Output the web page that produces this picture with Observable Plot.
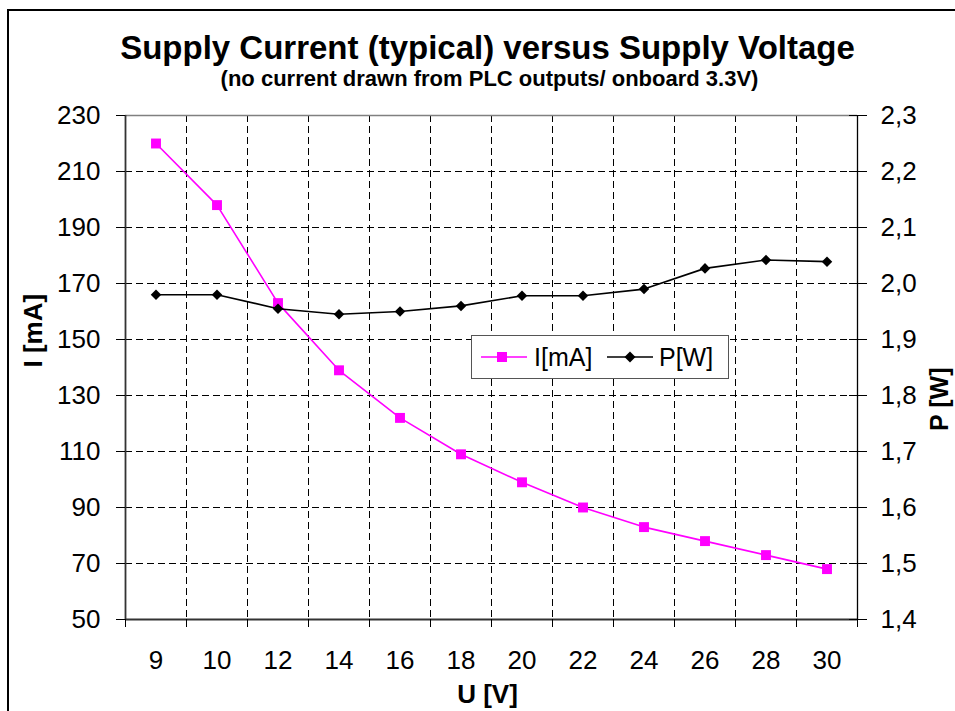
<!DOCTYPE html>
<html><head><meta charset="utf-8">
<script src="https://cdn.jsdelivr.net/npm/d3@7"></script>
<script src="https://cdn.jsdelivr.net/npm/@observablehq/plot@0.6"></script>
<style>
body{margin:0;background:#fff;}
#wrap{position:relative;width:955px;height:711px;overflow:hidden;background:#fff;font-family:"Liberation Sans",Arial,sans-serif;}
#wrap svg.plot{position:absolute;left:0;top:0;}
#border{position:absolute;left:7px;top:9px;width:1000px;height:1000px;border:2px solid #000;pointer-events:none;}
#legend{position:absolute;left:471px;top:335px;}
</style></head><body>
<div id="wrap"></div>
<script>
const voltages = ["9","10","12","14","16","18","20","22","24","26","28","30"];
const currentMA = [220,198,163,139,122,109,99,90,83,78,73,68];
const powerW = [1.98,1.98,1.955,1.945,1.95,1.96,1.978,1.978,1.99,2.027,2.042,2.039];
const iTicks = [50,70,90,110,130,150,170,190,210,230];
const pTicks = [1.4,1.5,1.6,1.7,1.8,1.9,2.0,2.1,2.2,2.3];
const seriesNames = ["I[mA]","P[W]"];

const toI = p => 50 + (p - 1.4) * 200;
const toP = i => (i - 50) / 200 + 1.4;
const data = voltages.map((v, i) => ({i, U: v, I: currentMA[i], P: powerW[i]}));
const idx = d3.range(voltages.length);
const bounds = d3.range(voltages.length + 1).map(k => k - 0.5);
const inner = bounds.slice(1, -1);
const dash = {stroke: "#000", strokeOpacity: 1, strokeWidth: 1, strokeDasharray: "7,4"};

const chart = Plot.plot({
  width: 955, height: 711,
  marginLeft: 125, marginRight: 98, marginTop: 115, marginBottom: 92,
  x: {type: "linear", domain: [-0.5, voltages.length - 0.5], axis: null},
  y: {type: "linear", domain: [50, 230], axis: null},
  style: {fontFamily: "'Liberation Sans', Arial, sans-serif", background: "transparent", overflow: "visible", color: "#000"},
  marks: [
    Plot.ruleY(iTicks.slice(1, -1), dash),
    Plot.ruleX(inner, dash),
    Plot.ruleY([230], {stroke: "#808080", strokeWidth: 1.5}),
    Plot.ruleY([50], {stroke: "#333", strokeWidth: 1.8}),
    Plot.ruleX([-0.5], {stroke: "#333", strokeWidth: 1.8}),
    Plot.ruleX([voltages.length - 0.5], {stroke: "#000", strokeWidth: 1.3}),
    Plot.axisY(iTicks, {anchor: "left", tickSize: 9, tickPadding: 16, fontSize: 26, label: null}),
    Plot.axisY(pTicks.map(toI), {anchor: "right", tickSize: 9, tickPadding: 14, fontSize: 26, label: null,
      tickFormat: d => toP(d).toFixed(1).replace(".", ",")}),
    Plot.axisY(iTicks, {anchor: "right", tickSize: 9, dx: -9, tickFormat: () => "", label: null}),
    Plot.axisX(bounds, {anchor: "bottom", tickSize: 8, tickFormat: () => "", label: null}),
    Plot.axisX(idx, {anchor: "bottom", tickSize: 0, tickPadding: 31, fontSize: 26, label: null,
      tickFormat: i => voltages[i]}),
    Plot.line(data, {x: "i", y: "I", stroke: "#FF00FF", strokeWidth: 1.6}),
    Plot.dot(data, {x: "i", y: "I", symbol: "square", r: 5.6, fill: "#FF00FF", stroke: "none"}),
    Plot.line(data, {x: "i", y: d => toI(d.P), stroke: "#000", strokeWidth: 1.6}),
    Plot.dot(data, {x: "i", y: d => toI(d.P), symbol: "square", rotate: 45, r: 4.2, fill: "#000", stroke: "none"}),
    Plot.text(["Supply Current (typical) versus Supply Voltage"], {text: d => d, frameAnchor: "top", dx: -4, dy: -57, lineAnchor: "bottom", fontSize: 33, fontWeight: "bold", fill: "#000"}),
    Plot.text(["(no current drawn from PLC outputs/ onboard 3.3V)"], {text: d => d, frameAnchor: "top", dx: -2, dy: -30, lineAnchor: "bottom", fontSize: 22, fontWeight: "bold", fill: "#000"}),
    Plot.text(["I [mA]"], {text: d => d, frameAnchor: "left", dx: -92, rotate: -90, fontSize: 26, fontWeight: "bold", fill: "#000"}),
    Plot.text(["P [W]"], {text: d => d, frameAnchor: "right", dx: 82, rotate: -90, fontSize: 25, fontWeight: "bold", fill: "#000"}),
    Plot.text(["U [V]"], {text: d => d, frameAnchor: "bottom", dx: -4, dy: 83, lineAnchor: "bottom", fontSize: 26, fontWeight: "bold", fill: "#000"})
  ]
});

const wrap = document.getElementById("wrap");
wrap.appendChild(chart);
const border = document.createElement("div");
border.id = "border";
wrap.appendChild(border);

// legend
const lw = 258, lh = 44;
const legend = d3.create("svg").attr("id", "legend").attr("width", lw).attr("height", lh)
  .style("font-family", "'Liberation Sans', Arial, sans-serif");
legend.append("rect").attr("x", 0.5).attr("y", 0.5).attr("width", lw - 1).attr("height", lh - 1)
  .attr("fill", "#fff").attr("stroke", "#555");
const cy = 22;
legend.append("line").attr("x1", 10).attr("x2", 56).attr("y1", cy).attr("y2", cy).attr("stroke", "#FF00FF").attr("stroke-width", 1.6);
legend.append("rect").attr("x", 31 - 5).attr("y", cy - 5).attr("width", 10).attr("height", 10).attr("fill", "#FF00FF");
legend.append("text").attr("x", 63).attr("y", cy + 9).attr("font-size", 25).text(seriesNames[0]);
legend.append("line").attr("x1", 136).attr("x2", 182).attr("y1", cy).attr("y2", cy).attr("stroke", "#000").attr("stroke-width", 1.6);
legend.append("path").attr("d", `M159,${cy - 5.5}L164.5,${cy}L159,${cy + 5.5}L153.5,${cy}Z`).attr("fill", "#000");
legend.append("text").attr("x", 188).attr("y", cy + 9).attr("font-size", 25).text(seriesNames[1]);
wrap.appendChild(legend.node());
</script>
</body></html>
